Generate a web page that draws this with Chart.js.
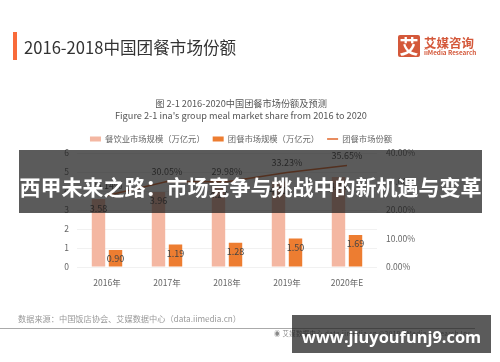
<!DOCTYPE html>
<html>
<head>
<meta charset="utf-8">
<script src="https://cdn.jsdelivr.net/npm/chart.js"></script>
<style>
    html, body { margin: 0; padding: 0; background: #fff; }
    body { width: 500px; height: 362px; overflow: hidden; position: relative; font-family: "Noto Sans CJK SC", sans-serif; }
    #base { position: absolute; left: 0; top: 0; width: 500px; height: 362px; filter: blur(0.45px); }
    #base div { position: absolute; white-space: nowrap; }
    #chartBox { left: 0; top: 0; width: 500px; height: 362px; }
    #accent { left: 13px; top: 32px; width: 4px; height: 28px; background: #f96b3a; }
    #heading { left: 24px; top: 35px; font-size: 16.6px; line-height: 24px; color: #333; }
    #logoBox { left: 398px; top: 35px; width: 22px; height: 22px; background: #d4583a; border-radius: 2px; color: #fff; font-size: 19px; font-weight: 700; line-height: 22px; text-align: center; }
    #logoCn { left: 424px; top: 34px; font-size: 12.5px; font-weight: 700; line-height: 17px; color: #d4583a; }
    #logoEn { left: 424px; top: 49px; font-size: 6.3px; font-weight: 700; line-height: 8px; color: #d4583a; }
    #source { left: 18px; top: 312px; font-size: 8.2px; line-height: 12px; color: #999; }
    #rule { left: 0; top: 328px; width: 475px; height: 1px; background: #aaa; }
    #footer { left: 274px; top: 329px; font-size: 6.3px; line-height: 10px; letter-spacing: 0.45px; color: #888; }
    .band { position: absolute; background: rgba(28, 28, 28, 0.72); color: #fff; font-weight: 700; white-space: nowrap; text-align: center; }
    #bandTitle { left: 19px; top: 150px; width: 463px; height: 63px; font-size: 21px; line-height: 72px; }
    #bandUrl { left: 292px; top: 315px; width: 199px; height: 38px; font-family: "Open Sans", sans-serif; font-size: 16.4px; line-height: 44px; }
</style>
</head>
<body>
<div id="base">
    <div id="chartBox"><canvas id="marketChart" width="500" height="362"></canvas></div>
    <div id="accent"></div>
    <div id="heading">2016-2018中国团餐市场份额</div>
    <div id="logoBox">艾</div>
    <div id="logoCn">艾媒咨询</div>
    <div id="logoEn">iiMedia Research</div>
    <div id="source">数据来源&#xFF1A;中国饭店协会、艾媒数据中心&#xFF08;data.iimedia.cn&#xFF09;</div>
    <div id="rule"></div>
    <div id="footer">◉ 艾媒数据中心 data.iimedia.cn ©2019 iiMedia Research Inc</div>
</div>
<div class="band" id="bandTitle">西甲未来之路&#xFF1A;市场竞争与挑战中的新机遇与变革</div>
<div class="band" id="bandUrl">www.jiuyoufunj9.com</div>

<script>
const categories = ["2016年", "2017年", "2018年", "2019年", "2020年E"];
const cateringMarket = [3.58, 3.96, 4.27, 4.51, 4.74];
const groupMealMarket = [0.90, 1.19, 1.28, 1.50, 1.69];
const groupMealShare = [25.14, 30.05, 29.98, 33.23, 35.65];
const leftTicks = [0, 1, 2, 3, 4, 5, 6];
const rightTicks = [0, 10, 20, 30, 40];
const seriesNames = ["餐饮业市场规模\uFF08万亿元\uFF09", "团餐市场规模\uFF08万亿元\uFF09", "团餐市场份额"];
const chartTitle = ["图 2-1 2016-2020中国团餐市场份额及预测", "Figure 2-1 ina's group meal market share from 2016 to 2020"];

const fontFamily = '"Noto Sans CJK SC", "Noto Sans", sans-serif';
const legendStyles = ["rect", "rect", "line"];

// Value labels drawn next to the marks
const valueLabels = {
    id: "valueLabels",
    afterDatasetsDraw(chart) {
        const ctx = chart.ctx;
        ctx.save();
        ctx.font = "9px " + fontFamily;
        ctx.fillStyle = "#444";
        ctx.textAlign = "center";
        ctx.textBaseline = "middle";
        chart.data.datasets.forEach((dataset, i) => {
            chart.getDatasetMeta(i).data.forEach((el, j) => {
                if (dataset.type === "line") {
                    ctx.fillText(dataset.data[j].toFixed(2) + "%", el.x, el.y - 10);
                } else {
                    ctx.fillText(dataset.data[j].toFixed(2), el.x, el.y + 9);
                }
            });
        });
        ctx.restore();
    }
};

new Chart(document.getElementById("marketChart"), {
    data: {
        labels: categories,
        datasets: [
            { type: "bar", label: seriesNames[0], data: cateringMarket, backgroundColor: "#f4b7a2", yAxisID: "y", categoryPercentage: 0.567, barPercentage: 0.79 },
            { type: "bar", label: seriesNames[1], data: groupMealMarket, backgroundColor: "#ed7d31", yAxisID: "y", categoryPercentage: 0.567, barPercentage: 0.79 },
            { type: "line", label: seriesNames[2], data: groupMealShare, borderColor: "#e0662a", borderWidth: 1.5, pointRadius: 0, tension: 0, yAxisID: "y1" }
        ]
    },
    plugins: [valueLabels],
    options: {
        responsive: false,
        animation: false,
        layout: { padding: { top: 98, right: 18, left: 0, bottom: 0 } },
        plugins: {
            title: {
                display: true,
                text: chartTitle,
                color: "#555",
                font: { family: fontFamily, size: 9.2, weight: "normal", lineHeight: 1.3 },
                padding: { top: 0, bottom: 5 }
            },
            legend: {
                display: true,
                position: "top",
                labels: {
                    color: "#666",
                    font: { family: fontFamily, size: 8.3 },
                    usePointStyle: true,
                    pointStyleWidth: 11,
                    boxHeight: 5,
                    padding: 8,
                    generateLabels(chart) {
                        const items = Chart.defaults.plugins.legend.labels.generateLabels(chart);
                        items.forEach((item, i) => { item.pointStyle = legendStyles[i]; });
                        return items;
                    }
                }
            },
            tooltip: { enabled: false }
        },
        scales: {
            x: {
                grid: { display: false },
                border: { display: false },
                ticks: { color: "#666", font: { family: fontFamily, size: 8.5 }, padding: 3, maxRotation: 0 },
                afterFit(axis) { axis.height = 95; }
            },
            y: {
                position: "left",
                min: 0,
                max: 6,
                grid: { color: "#f1f1f1", drawTicks: false },
                border: { display: false },
                afterBuildTicks(axis) { axis.ticks = leftTicks.map(v => ({ value: v })); },
                ticks: { color: "#666", font: { family: fontFamily, size: 8.5 }, padding: 8 },
                afterFit(axis) { axis.width = 77; }
            },
            y1: {
                position: "right",
                min: 0,
                max: 40,
                grid: { display: false, drawTicks: false },
                border: { display: false },
                afterBuildTicks(axis) { axis.ticks = rightTicks.map(v => ({ value: v })); },
                ticks: { color: "#666", font: { family: fontFamily, size: 8.5 }, padding: 9, callback: v => v.toFixed(2) + "%" },
                afterFit(axis) { axis.width = 105; }
            }
        }
    }
});
</script>
</body>
</html>
